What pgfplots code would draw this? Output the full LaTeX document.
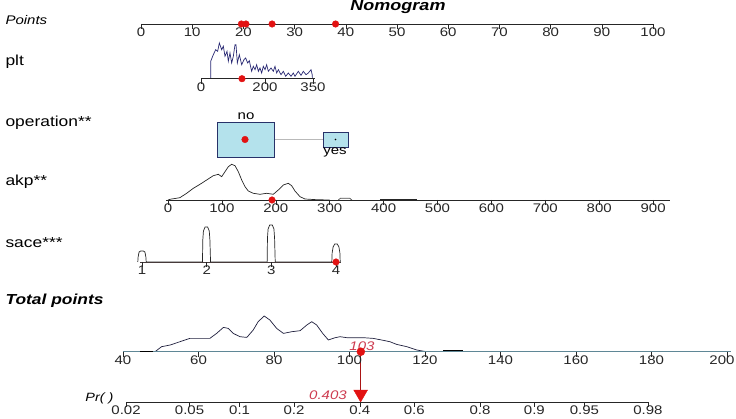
\documentclass[border=0pt]{standalone}
\usepackage{pgfplots}
\pgfplotsset{compat=1.18}
\usepackage{fontspec}
\setmainfont{Liberation Sans}[FakeStretch=1.2]

\definecolor{dotred}{RGB}{226,18,18}
\definecolor{txtred}{RGB}{205,60,80}
\definecolor{arrowred}{RGB}{170,20,20}
\definecolor{boxfill}{RGB}{180,226,236}
\definecolor{boxedge}{RGB}{40,50,105}
\definecolor{navy}{RGB}{40,40,115}
\definecolor{tpline}{RGB}{95,135,150}

\pgfplotsset{
  rowmap/.style 2 args={x filter/.expression={#1}, y filter/.expression={#2-y}},
  % one style per scale of the nomogram (pixel position of each scale)
  rpoints/.style={rowmap={141+5.12*x}{24}},
  rplt/.style={rowmap={201+0.32*x}{78.7}},
  rakp/.style={rowmap={168+0.539*x}{200}},
  rsace/.style={rowmap={142+64.67*(x-1)}{262}},
  rtotal/.style={rowmap={123+3.775*(x-40)}{351.7}},
  rprob/.style={rowmap={387+67.06*ln(x/(1-x))}{402}},
  ticklab/.style={black!85, only marks, mark=|, mark size=2.5pt,
    mark options={line width=0.6pt},
    nodes near coords, point meta=explicit symbolic,
    every node near coord/.style={anchor=north, inner sep=0pt, yshift=-1pt,
      font=\fontsize{12.5}{13}\selectfont, text=black!85}},
  dens/.style={line width=0.7pt},
  reddot/.style={only marks, mark=*, dotred, mark size=3.3pt},
}

\begin{document}
\begin{tikzpicture}
\useasboundingbox (0,0) rectangle (736pt,419pt);
\clip (0,0) rectangle (736pt,419pt);
\begin{axis}[
    at={(0,0)}, anchor=south west,
    scale only axis, width=736pt, height=419pt,
    xmin=0, xmax=736, ymin=0, ymax=419,
    y dir=reverse,
    hide axis, clip=false,
]

% ---- titles and row labels
\node[font=\fontsize{15}{15}\bfseries\itshape\selectfont] at (axis cs:398,7) {Nomogram};
\node[anchor=west, font=\fontsize{12.5}{12}\itshape\selectfont] at (axis cs:2,20) {Points};
\node[anchor=west, font=\fontsize{14.5}{14}\selectfont] at (axis cs:2,62) {plt};
\node[anchor=west, font=\fontsize{14.5}{14}\selectfont] at (axis cs:2,123) {operation**};
\node[anchor=west, font=\fontsize{14.5}{14}\selectfont] at (axis cs:2,182) {akp**};
\node[anchor=west, font=\fontsize{14.5}{14}\selectfont] at (axis cs:2,243) {sace***};
\node[anchor=west, font=\fontsize{14.5}{15}\bfseries\itshape\selectfont] at (axis cs:2,301) {Total points};
\node[anchor=east, font=\fontsize{12}{12}\itshape\selectfont] at (axis cs:117,398) {Pr( )};

% ---- Points
\addplot[rpoints, black!85, line width=0.7pt] coordinates {(0,0) (100,0)};
\addplot[rpoints, ticklab] coordinates {
  (0,-2.5)[0] (10,-2.5)[10] (20,-2.5)[20] (30,-2.5)[30] (40,-2.5)[40] (50,-2.5)[50]
  (60,-2.5)[60] (70,-2.5)[70] (80,-2.5)[80] (90,-2.5)[90] (100,-2.5)[100]};
\addplot[rpoints, reddot] coordinates {(19.6,0) (20.5,0) (25.6,0) (38.0,0)};

% ---- plt
\addplot[rplt, dens, navy] coordinates {
  (30.2,0) (30.2,17.4) (38.5,24.0) (45.8,29.0) (52.1,27.4) (57.3,35.7) (64.6,29.0)
  (69.8,32.4) (75,22.4) (81.3,27.4) (85.4,17.4) (90.6,25.7) (95.8,15.7) (101,22.4)
  (106.3,34.0) (109.4,34.0) (113.5,15.7) (119.8,24.0) (127.1,14.0) (134.4,19.0)
  (139.6,20.7) (145.8,15.7) (151,18.0) (158.3,7.4) (163.5,12.4) (168.8,9.0)
  (174,14.0) (179.2,7.4) (184.4,10.7) (189.6,5.7) (194.8,12.4) (200,9.0)
  (205.2,14.0) (210.4,7.4) (218.8,10.7) (226,7.4) (231.3,12.4) (236.5,5.7)
  (241.7,9.0) (250,4.0) (257.3,7.4) (264.6,2.4) (272.9,5.7) (281.3,2.4)
  (288.5,5.7) (293.8,2.4) (304.2,7.4) (312.5,3.4) (319.8,7.4) (328.1,4.0)
  (335.4,5.7) (343.8,9.0) (347.9,3.4) (348,0)};
\addplot[rplt, black!85, line width=0.7pt] coordinates {(0,0) (355,0)};
\addplot[rplt, ticklab] coordinates {(0,-2.5)[0] (200,-2.5)[200] (350,-2.5)[350]};
\addplot[rplt, reddot] coordinates {(128,0)};

% ---- operation (boxes sized by group frequency)
\addplot[gray!55, line width=0.6pt] coordinates {(274,139.5) (323,139.5)};
\addplot[fill=boxfill, draw=boxedge, line width=0.8pt] coordinates {
  (217,122) (274,122) (274,157) (217,157)} --cycle;
\addplot[fill=boxfill, draw=boxedge, line width=0.8pt] coordinates {
  (323,132) (348,132) (348,147) (323,147)} --cycle;
\addplot[reddot] coordinates {(245,139.5)};
\addplot[only marks, mark=*, black, mark size=0.5pt] coordinates {(335.5,139.5)};
\node[font=\fontsize{12.5}{13}\selectfont] at (axis cs:246,116) {no};
\node[font=\fontsize{12.5}{13}\selectfont] at (axis cs:335,152) {yes};

% ---- akp
\addplot[rakp, dens, black!85] coordinates {
  (0,0) (3.7,0.7) (22,2.3) (34.6,6.7) (47,11.7) (59.4,15.7) (71.7,20) (84,24.3)
  (93.4,25.7) (99.6,23.3) (105.8,28.3) (111.9,33.3) (118.1,35.7) (124.3,34.3)
  (130.5,28.3) (136.7,20) (142.9,13.3) (149,9) (158.3,6.7) (170.7,5.7)
  (183.1,6.7) (195.4,5.7) (204.6,10) (213.9,15) (223.2,16.7) (229.4,14.3)
  (235.6,9) (244.9,3.3) (254.2,1) (263.5,0.7) (275.9,0.3) (300,0)};
\addplot[rakp, dens, black!70] coordinates {(316,0) (320,1.8) (337,1.8) (341,0)};
\addplot[rakp, dens, black!85] coordinates {(393,1) (462,1)};
\addplot[rakp, black!85, line width=0.7pt] coordinates {(-4,0) (931,0)};
\addplot[rakp, ticklab] coordinates {
  (0,-2.5)[0] (100,-2.5)[100] (200,-2.5)[200] (300,-2.5)[300] (400,-2.5)[400]
  (500,-2.5)[500] (600,-2.5)[600] (700,-2.5)[700] (800,-2.5)[800] (900,-2.5)[900]};
\addplot[rakp, reddot] coordinates {(193,0)};

% ---- sace
\addplot[rsace, dens, black!85] coordinates {
  (0.935,0) (0.94,5) (0.955,10) (0.98,11) (1.02,11) (1.045,10) (1.06,5) (1.065,0)
  (1.935,0) (1.94,22) (1.95,31) (1.975,35) (2.015,35) (2.04,31) (2.05,22) (2.06,0)
  (2.935,0) (2.94,24) (2.95,33) (2.975,37) (3.015,37) (3.04,33) (3.05,24) (3.06,0)
  (3.935,0) (3.94,9) (3.955,15) (3.98,18) (4.02,18) (4.045,15) (4.06,9) (4.065,0)};
\addplot[rsace, color={rgb,255:red,70;green,58;blue,58}, line width=0.9pt] coordinates {(0.97,0) (4.07,0)};
\addplot[rsace, ticklab] coordinates {(1,-2.5)[1] (2,-2.5)[2] (3,-2.5)[3] (4,-2.5)[4]};
\addplot[rsace, reddot] coordinates {(4,0)};

% ---- Total points
\addplot[rtotal, dens, color={rgb,255:red,30;green,30;blue,60}] coordinates {
  (48.5,0) (50.2,5) (52.5,6.7) (55.1,10) (57.7,13.3) (63,13.3) (64.8,18.3)
  (66.6,24.3) (67.9,23.3) (69.2,18.3) (71,15) (72.8,14.3) (74.5,21.7) (75.8,30)
  (77.4,35.7) (78.9,31.7) (80.7,23.3) (82.5,18.3) (84.7,20) (86.9,21) (88.7,26.7)
  (90,30) (91.3,26.7) (92.9,18.3) (94.4,11.7) (96.2,14) (97.5,15) (99.3,14)
  (103.7,14) (106.3,13.3) (108.5,11.7) (110.7,10) (112.5,7.3) (115.2,5)
  (117.8,1.7) (120.4,0)};
\addplot[rtotal, tpline, line width=0.8pt] coordinates {(40,0) (201,0)};
\addplot[rtotal, dens, black] coordinates {(44.5,0.4) (48,0.4)};
\addplot[rtotal, dens, black] coordinates {(124.8,1) (130.1,1)};
\addplot[rtotal, ticklab] coordinates {
  (40,-2.5)[40] (60,-2.5)[60] (80,-2.5)[80] (100,-2.5)[100] (120,-2.5)[120]
  (140,-2.5)[140] (160,-2.5)[160] (180,-2.5)[180]};
\addplot[rtotal, ticklab, every node near coord/.append style={xshift=-5pt}]
  coordinates {(200,-2.5)[200]};
\addplot[rtotal, arrowred, line width=1pt] coordinates {(103,0) (103,-42)};
\addplot[rtotal, only marks, mark=*, dotred, mark size=4pt] coordinates {(103,0)};
\node[font=\fontsize{12.5}{13}\itshape\selectfont, text=txtred] at (axis cs:362,346) {103};

% ---- Pr( )
\addplot[rprob, black!85, line width=0.7pt] coordinates {(0.02,0) (0.98,0)};
\addplot[rprob, ticklab] coordinates {
  (0.02,-2.5)[0.02] (0.05,-2.5)[0.05] (0.1,-2.5)[0.1] (0.2,-2.5)[0.2] (0.4,-2.5)[0.4]
  (0.6,-2.5)[0.6] (0.8,-2.5)[0.8] (0.9,-2.5)[0.9] (0.95,-2.5)[0.95] (0.98,-2.5)[0.98]};
\addplot[rprob, only marks, mark=triangle*, mark size=8pt, dotred,
  mark options={rotate=180}] coordinates {(0.403,8)};
\node[font=\fontsize{12.5}{13}\itshape\selectfont, text=txtred] at (axis cs:328,395) {0.403};

\end{axis}
\end{tikzpicture}
\end{document}
